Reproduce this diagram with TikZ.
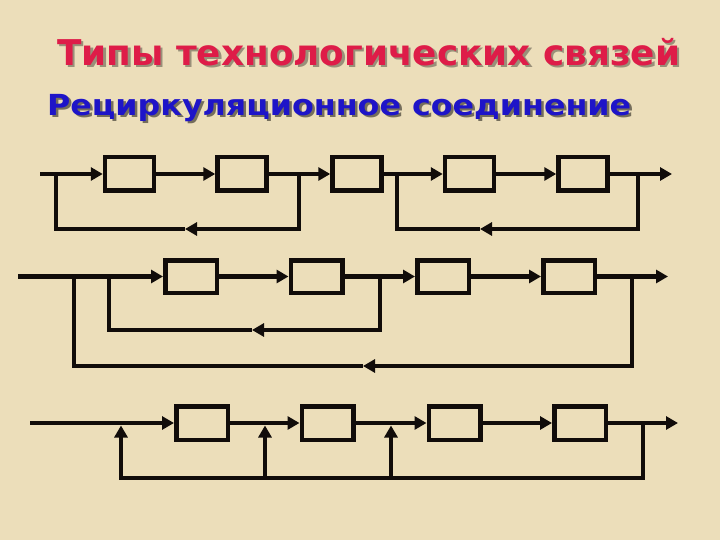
\documentclass[tikz,border=0pt]{standalone}
\usepackage{fontspec}
\newfontfamily\dejab{DejaVu Sans}
\usetikzlibrary{arrows.meta}
\definecolor{bgc}{RGB}{236,222,186}
\definecolor{titlered}{RGB}{222,28,72}
\definecolor{subblue}{RGB}{30,20,200}
\definecolor{ink}{RGB}{17,12,10}
\begin{document}
\begin{tikzpicture}[x=1pt,y=-1pt,
  wire/.style={line width=4.5pt,draw=ink},
  arr/.style={wire,-{Triangle[length=12pt,width=13pt]}},
  blk/.style={draw=ink,line width=4.5pt,minimum width=49pt,minimum height=33.5pt,inner sep=0pt},
  shadowtxt/.style={anchor=base west,inner sep=0pt,text=black,text opacity=0.35},
  ttl/.style={anchor=base west,inner sep=0pt}]
\fill[bgc] (0,0) rectangle (720,540);
\useasboundingbox (0,0) rectangle (720,540);
% titles
\node[shadowtxt] (tsh) at (59.5,68) {\resizebox{623pt}{\height}{\fontsize{35.5}{40}\dejab\bfseries Типы технологических связей}};
\node[ttl,text=titlered] (title) at (57,65.5) {\resizebox{623pt}{\height}{\fontsize{35.5}{40}\dejab\bfseries Типы технологических связей}};
\node[shadowtxt,text opacity=0.5] (ssh) at (49.5,118) {\resizebox{584pt}{\height}{\fontsize{29}{34}\dejab\bfseries Рециркуляционное соединение}};
\node[ttl,text=subblue] (sub) at (47,115.5) {\resizebox{584pt}{\height}{\fontsize{29}{34}\dejab\bfseries Рециркуляционное соединение}};
% ---------- row 1 ----------
\node[blk] (A1) at (129.5,174) {};
\node[blk] (A2) at (242,174) {};
\node[blk] (A3) at (357,174) {};
\node[blk] (A4) at (469.5,174) {};
\node[blk] (A5) at (583,174) {};
\coordinate (in1) at (40,174);
\coordinate (out1) at (672,174);
\draw[arr] (in1) -- (A1);
\draw[arr] (A1) -- (A2);
\draw[arr] (A2) -- (A3);
\draw[arr] (A3) -- (A4);
\draw[arr] (A4) -- (A5);
\draw[arr] (A5) -- (out1);
\coordinate (t11) at (299,174); \coordinate (r11) at (299,229);
\coordinate (m11) at (185,229); \coordinate (l11) at (56,229); \coordinate (j11) at (56,174);
\draw[arr] (t11) -- (r11) -- (m11);
\draw[wire] (m11) -- (l11) -- (j11);
\coordinate (t12) at (638,174); \coordinate (r12) at (638,229);
\coordinate (m12) at (480,229); \coordinate (l12) at (397,229); \coordinate (j12) at (397,174);
\draw[arr] (t12) -- (r12) -- (m12);
\draw[wire] (m12) -- (l12) -- (j12);
% ---------- row 2 ----------
\node[blk,minimum width=51.5pt,minimum height=32.5pt] (B1) at (191,276.5) {};
\node[blk,minimum width=51.5pt,minimum height=32.5pt] (B2) at (316.5,276.5) {};
\node[blk,minimum width=51.5pt,minimum height=32.5pt] (B3) at (443,276.5) {};
\node[blk,minimum width=51.5pt,minimum height=32.5pt] (B4) at (569,276.5) {};
\coordinate (in2) at (18,276.5);
\coordinate (out2) at (668,276.5);
\draw[arr] (in2) -- (B1);
\draw[arr] (B1) -- (B2);
\draw[arr] (B2) -- (B3);
\draw[arr] (B3) -- (B4);
\draw[arr] (B4) -- (out2);
\coordinate (t21) at (380,276.5); \coordinate (r21) at (380,330);
\coordinate (m21) at (252,330); \coordinate (l21) at (109,330); \coordinate (j21) at (109,276.5);
\draw[arr] (t21) -- (r21) -- (m21);
\draw[wire] (m21) -- (l21) -- (j21);
\coordinate (t22) at (632,276.5); \coordinate (r22) at (632,366);
\coordinate (m22) at (363,366); \coordinate (l22) at (74,366); \coordinate (j22) at (74,276.5);
\draw[arr] (t22) -- (r22) -- (m22);
\draw[wire] (m22) -- (l22) -- (j22);
% ---------- row 3 ----------
\node[blk,minimum width=51.5pt] (C1) at (202,423) {};
\node[blk,minimum width=51.5pt] (C2) at (327.5,423) {};
\node[blk,minimum width=51.5pt] (C3) at (454.5,423) {};
\node[blk,minimum width=51.5pt] (C4) at (580,423) {};
\coordinate (in3) at (30,423);
\coordinate (out3) at (678,423);
\draw[arr] (in3) -- (C1);
\draw[arr] (C1) -- (C2);
\draw[arr] (C2) -- (C3);
\draw[arr] (C3) -- (C4);
\draw[arr] (C4) -- (out3);
\coordinate (t3) at (643,423); \coordinate (r3) at (643,478);
\coordinate (b31) at (121,478); \coordinate (j31) at (121,425.5);
\coordinate (b32) at (265,478); \coordinate (j32) at (265,425.5);
\coordinate (b33) at (391,478); \coordinate (j33) at (391,425.5);
\draw[arr] (t3) -- (r3) -- (b31) -- (j31);
\draw[arr] (b32) -- (j32);
\draw[arr] (b33) -- (j33);
\end{tikzpicture}
\end{document}
